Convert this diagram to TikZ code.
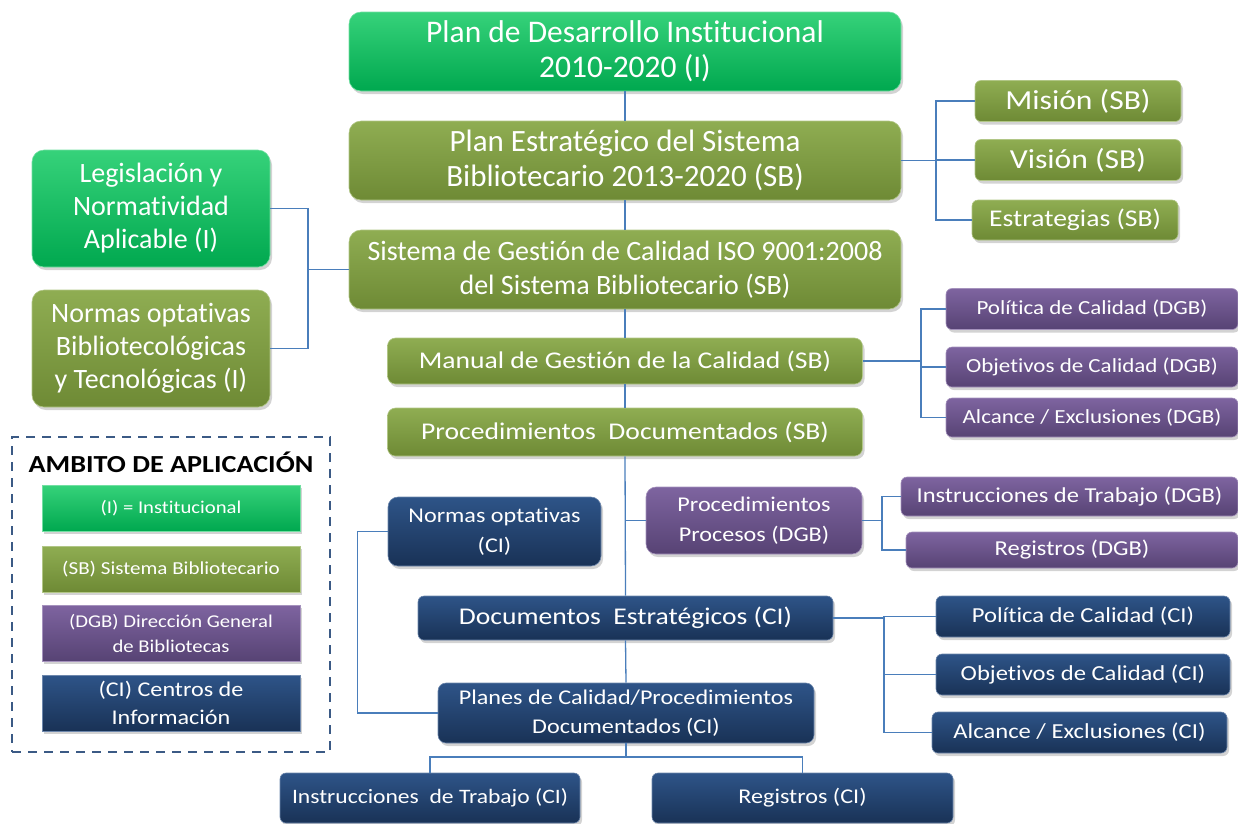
\documentclass[tikz,border=0pt]{standalone}
\usepackage{fontspec}
\setmainfont[Ligatures=NoCommon,Contextuals=NoAlternate]{Carlito}
\newfontfamily\wf[FakeStretch=1.15,Ligatures=NoCommon,Contextuals=NoAlternate]{Carlito}
\usetikzlibrary{shadows}
\definecolor{igtop}{HTML}{36D27A}
\definecolor{igbot}{HTML}{00A84F}
\definecolor{sbtop}{HTML}{8FAD52}
\definecolor{sbbot}{HTML}{6E8A35}
\definecolor{dgtop}{HTML}{7E64A0}
\definecolor{dgbot}{HTML}{574374}
\definecolor{citop}{HTML}{2E5488}
\definecolor{cibot}{HTML}{193256}
\definecolor{lineblue}{HTML}{4A7EBB}
\definecolor{dashblue}{HTML}{3B5A85}
\begin{document}
\begin{tikzpicture}[x=1pt,y=-1pt,
  bx/.style={text=white, align=center, inner sep=0pt, rounded corners=#1,
    drop shadow={opacity=0.35, shadow xshift=2pt, shadow yshift=-3pt}},
  bx/.default=6pt,
  ib/.style={bx=#1, top color=igtop, bottom color=igbot, draw=igtop!70!white, line width=0.6pt},
  sb/.style={bx=#1, top color=sbtop, bottom color=sbbot, draw=sbtop!70!white, line width=0.6pt},
  db/.style={bx=#1, top color=dgtop, bottom color=dgbot, draw=dgtop!70!white, line width=0.6pt},
  cb/.style={bx=#1, top color=citop, bottom color=cibot, draw=citop!70!white, line width=0.6pt},
  ib/.default=6pt, sb/.default=6pt, db/.default=6pt, cb/.default=6pt,
  conn/.style={draw=lineblue, line width=1.3pt},
]
\useasboundingbox (0,0) rectangle (1238,823);

% main column
\node[ib=12pt, minimum width=552, minimum height=79, font=\fontsize{31.5}{35}\selectfont] (pdi) at (625,51.5) {Plan de Desarrollo Institucional\\2010-2020 (I)};
\node[sb=12pt, minimum width=552, minimum height=79, font=\fontsize{31}{35}\selectfont] (pe) at (625,160.5) {Plan Estratégico del Sistema\\Bibliotecario 2013-2020 (SB)};
\node[sb=12pt, minimum width=552, minimum height=79, font=\fontsize{28}{34}\selectfont] (sgc) at (625,269.5) {Sistema de Gestión de Calidad ISO 9001:2008\\del Sistema Bibliotecario (SB)};
\node[sb=8pt, minimum width=475, minimum height=46, font=\wf\fontsize{24}{28}\selectfont] (man) at (625,361) {Manual de Gestión de la Calidad (SB)};
\node[sb=8pt, minimum width=475, minimum height=48, font=\wf\fontsize{24}{28}\selectfont] (pdoc) at (625,432) {Procedimientos\ \ Documentados (SB)};

% left
\node[ib=12pt, minimum width=238, minimum height=117, font=\fontsize{28}{33}\selectfont] (leg) at (151,208.5) {Legislación y\\Normatividad\\Aplicable (I)};
\node[sb=12pt, minimum width=238, minimum height=117, font=\fontsize{28}{33}\selectfont] (nob) at (151,348.5) {Normas optativas\\Bibliotecológicas\\y Tecnológicas (I)};

% right SB
\node[sb, minimum width=206, minimum height=41, font=\wf\fontsize{27.5}{30}\selectfont] (mis) at (1078,101) {Misión (SB)};
\node[sb, minimum width=206, minimum height=41, font=\wf\fontsize{27.5}{30}\selectfont] (vis) at (1078,160) {Visión (SB)};
\node[sb, minimum width=206, minimum height=40, font=\wf\fontsize{24}{27}\selectfont] (est) at (1075,220) {Estrategias (SB)};

% right DGB
\node[db, minimum width=292, minimum height=41, font=\wf\fontsize{20}{23}\selectfont] (pold) at (1092,309) {Política de Calidad (DGB)};
\node[db, minimum width=292, minimum height=40, font=\wf\fontsize{20}{23}\selectfont] (objd) at (1092,367) {Objetivos de Calidad (DGB)};
\node[db, minimum width=292, minimum height=39, font=\wf\fontsize{20}{23}\selectfont] (alcd) at (1092,417.5) {Alcance / Exclusiones (DGB)};
\node[db=10pt, minimum width=216, minimum height=67, font=\wf\fontsize{21}{30}\selectfont] (ppd) at (754,520.5) {Procedimientos\\Procesos (DGB)};
\node[db, minimum width=337, minimum height=39, font=\wf\fontsize{21.3}{24}\selectfont] (insd) at (1069.5,496.5) {Instrucciones de Trabajo (DGB)};
\node[db, minimum width=332, minimum height=36, font=\wf\fontsize{21.3}{24}\selectfont] (regd) at (1072,550) {Registros (DGB)};

% CI
\node[cb=10pt, minimum width=213, minimum height=69, font=\wf\fontsize{21}{30}\selectfont] (noc) at (494.5,531.5) {Normas optativas\\(CI)};
\node[cb, minimum width=415, minimum height=44, font=\wf\fontsize{24}{28}\selectfont] (doe) at (625.5,618) {Documentos\ \ Estratégicos (CI)};
\node[cb=8pt, minimum width=376, minimum height=60, font=\wf\fontsize{21}{29}\selectfont] (plc) at (626,713) {Planes de Calidad/Procedimientos\\Documentados (CI)};
\node[cb, minimum width=300, minimum height=50, font=\wf\fontsize{20.5}{24}\selectfont] (insc) at (430,798) {Instrucciones\ \ de Trabajo (CI)};
\node[cb, minimum width=301, minimum height=50, font=\wf\fontsize{21}{24}\selectfont] (regc) at (802.5,798) {Registros (CI)};
\node[cb, minimum width=294, minimum height=41, font=\wf\fontsize{21.4}{24}\selectfont] (polc) at (1083,616.5) {Política de Calidad (CI)};
\node[cb, minimum width=294, minimum height=41, font=\wf\fontsize{21.4}{24}\selectfont] (objc) at (1083,674.5) {Objetivos de Calidad (CI)};
\node[cb, minimum width=295, minimum height=41, font=\wf\fontsize{21.4}{24}\selectfont] (alcc) at (1079.5,732.5) {Alcance / Exclusiones (CI)};

% legend
\node[draw=dashblue, line width=2.5pt, dash pattern=on 9pt off 7pt, minimum width=318, minimum height=315, inner sep=0pt] (lgd) at (171,594.5) {};
\node[font=\wf\bfseries\fontsize{24.5}{28}\selectfont, text=black] (lgt) at (171,462) {AMBITO DE APLICACIÓN};
\node[ib=0pt, minimum width=258, minimum height=46, font=\wf\fontsize{18}{22}\selectfont] (li) at (171,508) {(I) = Institucional};
\node[sb=0pt, minimum width=258, minimum height=46, font=\wf\fontsize{18.3}{22}\selectfont] (ls) at (171,569) {(SB) Sistema Bibliotecario};
\node[db=0pt, minimum width=258, minimum height=56, font=\wf\fontsize{18}{25}\selectfont] (ld) at (171,633) {(DGB) Dirección General\\de Bibliotecas};
\node[cb=0pt, minimum width=258, minimum height=56, font=\wf\fontsize{21}{28}\selectfont] (lc) at (171,703) {(CI) Centros de\\Información};

% connectors
\draw[conn] (pdi.south) -- (pe.north);
\draw[conn] (pe.south) -- (sgc.north);
\draw[conn] (sgc.south) -- (man.north);
\draw[conn] (man.south) -- (pdoc.north);
\draw[conn] (pdoc.south) -- (doe.north);
\draw[conn] (pdoc.south |- ppd.west) -- (ppd.west);
\draw[conn] (doe.south) -- (plc.north);
\coordinate (bj) at (626,757);
\draw[conn] (plc.south) -- (bj);
\draw[conn] (insc.north) |- (bj) -| (regc.north);
\draw[conn] (noc.west) -- ++(-30,0) |- (plc.west);

\coordinate (lj) at (308,269.5);
\draw[conn] (leg.east) -| (lj) |- (nob.east);
\draw[conn] (lj) -- (sgc.west);

\coordinate (pj) at (936,160.5);
\draw[conn] (pe.east) -- (pj);
\draw[conn] (mis.west) -| (pj) |- (est.west);
\draw[conn] (pj |- vis.west) -- (vis.west);

\coordinate (mj) at (921,361);
\draw[conn] (man.east) -- (mj);
\draw[conn] (pold.west) -| (mj) |- (alcd.west);
\draw[conn] (mj |- objd.west) -- (objd.west);

\coordinate (qj) at (882,520.5);
\draw[conn] (ppd.east) -- (qj);
\draw[conn] (insd.west) -| (qj) |- (regd.west);

\coordinate (dj) at (884,618);
\draw[conn] (doe.east) -- (dj);
\draw[conn] (polc.west) -| (dj) |- (alcc.west);
\draw[conn] (dj |- objc.west) -- (objc.west);
\end{tikzpicture}
\end{document}
